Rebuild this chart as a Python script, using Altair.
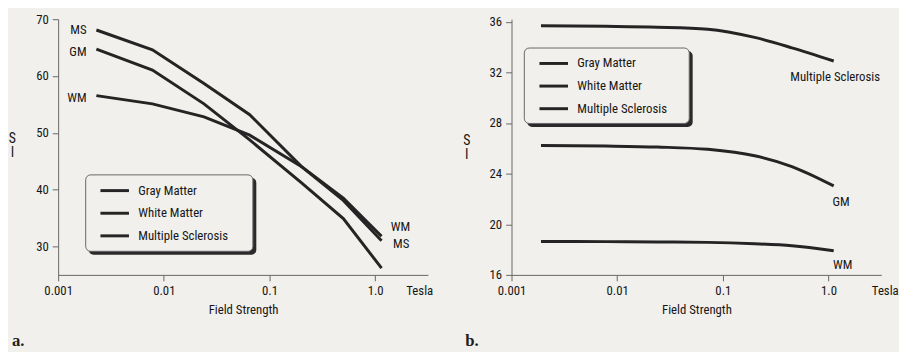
import altair as alt
import pandas as pd

# ---------------- data ----------------
series_names = ["Gray Matter", "White Matter", "Multiple Sclerosis"]

# panel a
a_field = [0.0023, 0.0078, 0.024, 0.065, 0.2, 0.5, 1.15]
a_gm = [64.75, 61.05, 55.1, 48.75, 41.25, 34.9, 26.2]
a_wm = [56.55, 55.1, 52.8, 49.6, 44.1, 38.5, 31.8]
a_ms = [68.1, 64.6, 58.7, 53.2, 44.1, 38.1, 31.0]

# panel b
b_field = [0.0019, 0.0078, 0.024, 0.072, 0.2, 0.45, 1.12]
b_gm = [26.23, 26.18, 26.1, 25.92, 25.41, 24.56, 23.03]
b_wm = [18.64, 18.63, 18.6, 18.57, 18.46, 18.3, 17.91]
b_ms = [35.69, 35.64, 35.57, 35.41, 34.76, 33.94, 32.9]

x_tick_values = [0.001, 0.01, 0.1, 1.0]
x_tick_labels = ["0.001", "0.01", "0.1", "1.0"]

a_y_ticks = [30, 35, 40, 45, 50, 55, 60, 65, 70]
a_y_labels = ["30", "", "40", "", "50", "", "60", "", "70"]
b_y_ticks = [16, 18, 20, 22, 24, 26, 28, 30, 32, 34, 36]
b_y_labels = ["16", "", "20", "", "24", "", "28", "", "32", "", "36"]

# ---------------- style ----------------
FONT = "Roboto Condensed"
SERIF = "Liberation Serif"
BG = "#f1f0ec"
INK = "#242424"
TXT = "#161616"
AXC = "#666666"
W, H = 376, 260


def label_expr(values, labels):
    parts = [f"datum.value == {v} ? '{l}'" for v, l in zip(values, labels)]
    return " : ".join(parts) + " : ''"


def long_df(field, gm, wm, ms):
    rows = []
    for name, vals in zip(series_names, [gm, wm, ms]):
        for f, v in zip(field, vals):
            rows.append({"field": f, "si": v, "tissue": name})
    return pd.DataFrame(rows)


def make_panel(df, x_dom, y_dom, y_ticks, y_labels, interp, leg_x, leg_y,
               box, labels, tesla_x, ytx, yty, letter):
    x = alt.X("field:Q",
              scale=alt.Scale(type="log", domain=x_dom, nice=False),
              axis=alt.Axis(values=x_tick_values,
                            labelExpr=label_expr(x_tick_values, x_tick_labels),
                            labelFlush=False,
                            title="Field Strength", grid=False, tickSize=6,
                            labelPadding=4, titlePadding=6))
    y = alt.Y("si:Q",
              scale=alt.Scale(domain=y_dom, nice=False, zero=False),
              axis=alt.Axis(values=y_ticks,
                            labelExpr=label_expr(y_ticks, y_labels),
                            title=["S", "I"], titleAngle=0, titleX=ytx,
                            titleY=yty, titleAlign="center",
                            titleBaseline="top", titleLineHeight=15,
                            titleFontSize=14,
                            grid=False, tickSize=6, labelPadding=4))
    color = alt.Color("tissue:N",
                      scale=alt.Scale(domain=series_names, range=[INK] * 3),
                      sort=series_names,
                      legend=alt.Legend(orient="none", legendX=leg_x,
                                        legendY=leg_y, title=None,
                                        symbolType="stroke", symbolSize=841,
                                        symbolStrokeWidth=3, labelFont=FONT,
                                        labelFontSize=13, labelColor=TXT,
                                        labelOffset=8, rowPadding=-8.7,
                                        padding=0))

    one = pd.DataFrame([{"k": 0}])
    bx0, by0, bx1, by1 = box
    shadow = alt.Chart(one).mark_rect(fill="#2a2a2a", cornerRadius=5).encode(
        x=alt.value(bx0 + 3), x2=alt.value(bx1 + 3.5),
        y=alt.value(by0 + 3), y2=alt.value(by1 + 3.5))
    frame = alt.Chart(one).mark_rect(fill=BG, stroke=AXC, strokeWidth=1,
                                     cornerRadius=5).encode(
        x=alt.value(bx0), x2=alt.value(bx1),
        y=alt.value(by0), y2=alt.value(by1))

    lines = alt.Chart(df).mark_line(strokeWidth=3, interpolate=interp,
                                    strokeCap="butt").encode(
        x=x, y=y, color=color, order="field:Q")

    layers = [shadow, frame, lines]
    for fx, fy, txt, dx, dy, align in labels:
        ldf = pd.DataFrame([{"field": fx, "si": fy, "lab": txt}])
        layers.append(alt.Chart(ldf).mark_text(
            dx=dx, dy=dy, align=align, baseline="middle", font=FONT,
            fontSize=13, color=TXT).encode(
            x="field:Q", y="si:Q", text="lab:N"))

    unit = pd.DataFrame([{"u": "Tesla"}])
    layers.append(alt.Chart(unit).mark_text(
        align="left", baseline="middle", font=FONT, fontSize=13,
        color=TXT).encode(x=alt.value(tesla_x), y=alt.value(H + 16),
                          text="u:N"))
    let = pd.DataFrame([{"u": letter}])
    layers.append(alt.Chart(let).mark_text(
        align="left", baseline="alphabetic", font=SERIF, fontSize=17,
        fontWeight="bold", color="#1e1e1e").encode(
        x=alt.value(-47), y=alt.value(332), text="u:N"))

    return alt.layer(*layers).properties(width=W, height=H)


df_a = long_df(a_field, a_gm, a_wm, a_ms)
df_b = long_df(b_field, b_gm, b_wm, b_ms)

labels_a = [
    (a_field[0], a_ms[0], "MS", -10, 0.5, "right"),
    (a_field[0], a_gm[0], "GM", -10, 3, "right"),
    (a_field[0], a_wm[0], "WM", -10, 2, "right"),
    (a_field[-1], a_wm[-1], "WM", 9.4, -9.6, "left"),
    (a_field[-1], a_ms[-1], "MS", 11.7, 3, "left"),
]
labels_b = [
    (b_field[-1], b_ms[-1], "Multiple Sclerosis", 1.5, 16.8, "center"),
    (b_field[-1], b_gm[-1], "GM", 7.4, 16.8, "center"),
    (b_field[-1], b_wm[-1], "WM", 9.2, 14.3, "center"),
]

pa = make_panel(df_a, [0.001, 3.16], [25, 70], a_y_ticks, a_y_labels,
                "linear", 41.5, 158.3, (28, 158.3, 198, 236), labels_a,
                354, -47, 114, "a.")
pb = make_panel(df_b, [0.001, 3.16], [16, 36.2], b_y_ticks, b_y_labels,
                "monotone", 26.9, 29, (13, 29.3, 180.7, 106), labels_b,
                366.4, -46, 116, "b.")

chart = alt.hconcat(pa, pb, spacing=29).resolve_scale(
    color="independent").resolve_legend(color="independent").properties(
    padding={"top": 2.5, "left": 0, "right": 0, "bottom": 0}
).configure(background=BG).configure_view(stroke=None).configure_axis(
    domainColor=AXC, tickColor=AXC, domainWidth=1, tickWidth=1,
    labelFont=FONT, labelFontSize=13, labelColor=TXT,
    titleFont=FONT, titleFontSize=13, titleFontWeight="normal",
    titleColor=TXT)

chart.save("out.html", embed_options={"renderer": "svg", "actions": False})
